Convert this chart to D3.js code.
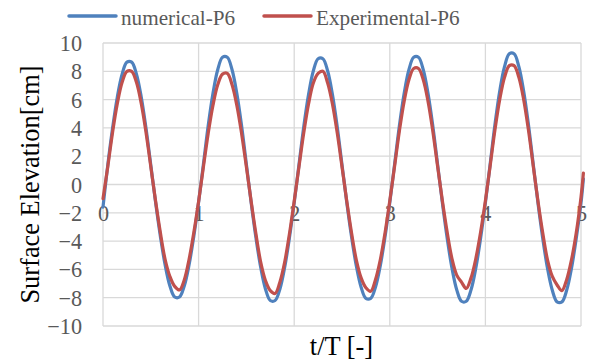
<!DOCTYPE html>
<html>
<head>
<meta charset="utf-8">
<script src="https://cdn.jsdelivr.net/npm/d3@7"></script>
<style>
  html, body { margin: 0; padding: 0; background: #ffffff; }
  svg { display: block; }
</style>
</head>
<body>
<svg id="chart" width="590" height="363"></svg>
<script>
// Sample times t/T
const tValues = [
  0.00, 0.05, 0.10, 0.15, 0.20, 0.25, 0.30, 0.35, 0.40, 0.45, 0.50, 0.55, 0.60, 0.65, 0.70, 0.75, 0.80, 0.85, 0.90, 0.95,
  1.00, 1.05, 1.10, 1.15, 1.20, 1.25, 1.30, 1.35, 1.40, 1.45, 1.50, 1.55, 1.60, 1.65, 1.70, 1.75, 1.80, 1.85, 1.90, 1.95,
  2.00, 2.05, 2.10, 2.15, 2.20, 2.25, 2.30, 2.35, 2.40, 2.45, 2.50, 2.55, 2.60, 2.65, 2.70, 2.75, 2.80, 2.85, 2.90, 2.95,
  3.00, 3.05, 3.10, 3.15, 3.20, 3.25, 3.30, 3.35, 3.40, 3.45, 3.50, 3.55, 3.60, 3.65, 3.70, 3.75, 3.80, 3.85, 3.90, 3.95,
  4.00, 4.05, 4.10, 4.15, 4.20, 4.25, 4.30, 4.35, 4.40, 4.45, 4.50, 4.55, 4.60, 4.65, 4.70, 4.75, 4.80, 4.85, 4.90, 4.95,
  5.00, 5.025
];

// Surface elevation [cm], numerical model at P6
const numericalP6 = [
  -1.60, 1.37, 3.97, 6.19, 7.80, 8.65, 8.65, 7.80, 6.19, 3.97, 1.37, -1.26, -3.65, -5.69, -7.17, -7.95, -7.95, -7.17, -5.69, -3.65,
  -1.26, 1.42, 4.13, 6.43, 8.11, 8.99, 8.99, 8.11, 6.43, 4.13, 1.42, -1.29, -3.77, -5.87, -7.40, -8.20, -8.20, -7.40, -5.87, -3.77,
  -1.29, 1.40, 4.09, 6.36, 8.02, 8.89, 8.89, 8.02, 6.36, 4.09, 1.40, -1.27, -3.70, -5.76, -7.26, -8.05, -8.05, -7.26, -5.76, -3.70,
  -1.27, 1.42, 4.13, 6.43, 8.11, 8.99, 8.99, 8.11, 6.43, 4.13, 1.42, -1.30, -3.79, -5.90, -7.44, -8.25, -8.25, -7.44, -5.90, -3.79,
  -1.30, 1.46, 4.24, 6.61, 8.33, 9.24, 9.24, 8.33, 6.61, 4.24, 1.46, -1.31, -3.81, -5.94, -7.48, -8.30, -8.30, -7.48, -5.94, -3.81,
  -1.31, 0.40
];

// Surface elevation [cm], measured at P6
const experimentalP6 = [
  -1.00, 1.26, 3.68, 5.73, 7.22, 8.00, 8.00, 7.22, 5.73, 3.68, 1.26, -1.17, -3.40, -5.30, -6.50, -7.20, -7.45, -6.75, -5.30, -3.40,
  -1.20, 1.23, 3.59, 5.59, 7.05, 7.80, 7.85, 7.05, 5.59, 3.59, 1.23, -1.20, -3.50, -5.50, -6.80, -7.50, -7.70, -6.90, -5.50, -3.50,
  -1.18, 1.26, 3.65, 5.69, 7.17, 7.85, 8.00, 7.17, 5.69, 3.65, 1.26, -1.18, -3.43, -5.34, -6.60, -7.30, -7.55, -6.73, -5.34, -3.43,
  -1.15, 1.29, 3.77, 5.87, 7.40, 8.20, 8.20, 7.40, 5.87, 3.77, 1.29, -1.15, -3.36, -5.23, -6.40, -6.90, -7.35, -6.60, -5.23, -3.36,
  -1.15, 1.33, 3.86, 6.01, 7.57, 8.40, 8.40, 7.57, 6.01, 3.86, 1.33, -1.18, -3.43, -5.34, -6.50, -7.10, -7.50, -6.73, -5.34, -3.43,
  -0.90, 0.80
];

const xTicks = [0, 1, 2, 3, 4, 5];
const yTicks = [-10, -8, -6, -4, -2, 0, 2, 4, 6, 8, 10];
const seriesNames = ["numerical-P6", "Experimental-P6"];
const seriesColors = ["#4F81BD", "#C0504D"];

const svg = d3.select("#chart");
const font = "'Liberation Serif', 'Times New Roman', serif";
const textColor = "#595959";
const gridColor = "#D9D9D9";

const x = d3.scaleLinear().domain([0, 5]).range([103, 581]);
const y = d3.scaleLinear().domain([-10, 10]).range([326, 43]);

// Gridlines
const grid = svg.append("g");
grid.selectAll("line.h").data(yTicks).join("line")
  .attr("x1", x(0)).attr("x2", x(5))
  .attr("y1", d => y(d)).attr("y2", d => y(d))
  .attr("stroke", gridColor).attr("stroke-width", 1.3);
grid.selectAll("line.v").data(xTicks).join("line")
  .attr("y1", y(10)).attr("y2", y(-10))
  .attr("x1", d => x(d)).attr("x2", d => x(d))
  .attr("stroke", gridColor).attr("stroke-width", 1.3);

// Y axis tick labels
const yAxis = d3.axisLeft(y).tickValues(yTicks).tickSize(0).tickPadding(21);
const gy = svg.append("g").attr("transform", `translate(${x(0)},0)`).call(yAxis);
gy.select(".domain").remove();
gy.selectAll("text")
  .attr("font-family", font).attr("font-size", 22.2).attr("fill", textColor)
  .attr("dy", "0.34em");

// X axis tick labels (sitting on the -2 gridline)
const xAxis = d3.axisBottom(x).tickValues(xTicks).tickSize(0).tickPadding(0).tickFormat(d3.format("d"));
const gx = svg.append("g").attr("transform", `translate(0,${y(-2)})`).call(xAxis);
gx.select(".domain").remove();
gx.selectAll("text")
  .attr("font-family", font).attr("font-size", 22.2).attr("fill", textColor)
  .attr("y", 0).attr("dy", "0.36em");

// Series lines
const line = d3.line()
  .x((d, i) => x(tValues[i]))
  .y(d => y(d))
  .curve(d3.curveCatmullRom.alpha(0.5));

[numericalP6, experimentalP6].forEach((vals, k) => {
  svg.append("path")
    .datum(vals)
    .attr("d", line)
    .attr("fill", "none")
    .attr("stroke", seriesColors[k])
    .attr("stroke-width", 3.2)
    .attr("stroke-linejoin", "round")
    .attr("stroke-linecap", "round");
});

// Axis titles
svg.append("text")
  .attr("transform", `translate(39,${y(0)}) rotate(-90)`)
  .attr("text-anchor", "middle")
  .attr("font-family", font).attr("font-size", 26.4).attr("fill", "#000000")
  .text("Surface Elevation[cm]");

svg.append("text")
  .attr("x", (x(0) + x(5)) / 2 - 0.5).attr("y", 355)
  .attr("text-anchor", "middle")
  .attr("font-family", font).attr("font-size", 26.4).attr("fill", "#000000")
  .text("t/T [-]");

// Legend
const legendX = [69, 264];
const legend = svg.append("g");
seriesNames.forEach((name, k) => {
  legend.append("line")
    .attr("x1", legendX[k]).attr("x2", legendX[k] + 47)
    .attr("y1", 16).attr("y2", 16)
    .attr("stroke", seriesColors[k]).attr("stroke-width", 3.5)
    .attr("stroke-linecap", "round");
  legend.append("text")
    .attr("x", legendX[k] + 52).attr("y", 25)
    .attr("font-family", font).attr("font-size", 21.2).attr("fill", textColor)
    .text(name);
});
</script>
</body>
</html>
